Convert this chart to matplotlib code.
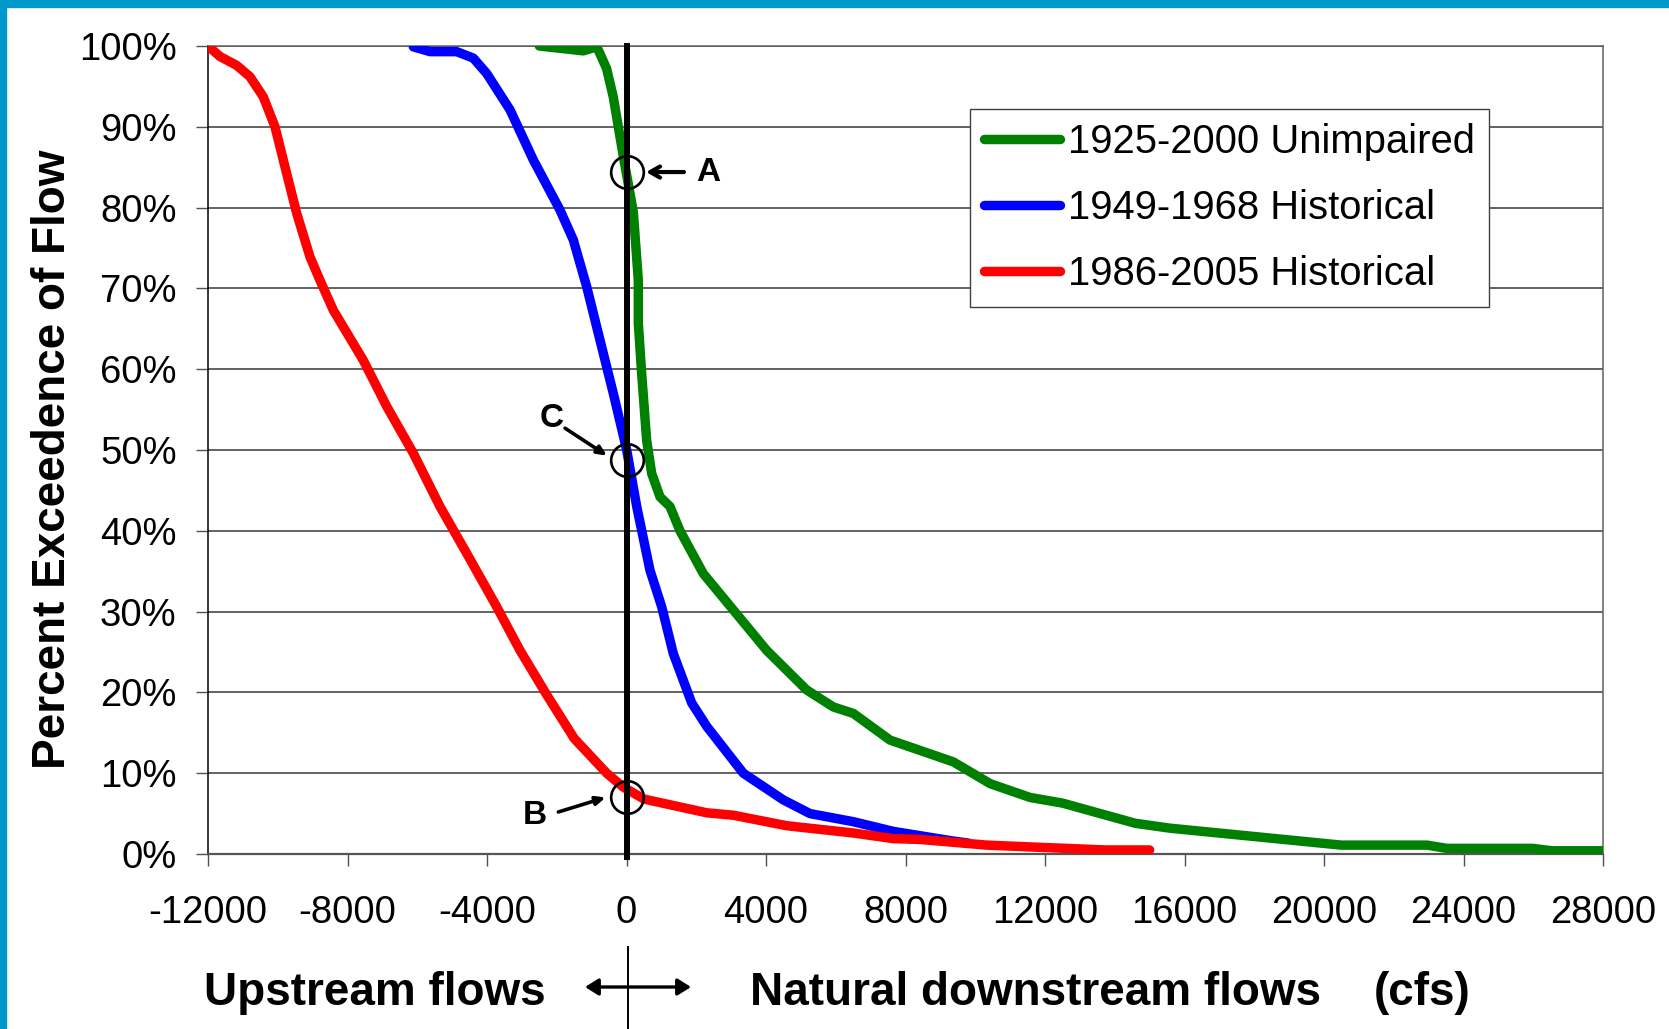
import matplotlib
matplotlib.use("Agg")
import matplotlib.pyplot as plt
from matplotlib.patches import Rectangle, FancyArrowPatch

plt.rcParams['font.family'] = ['Liberation Sans', 'DejaVu Sans']

# ---- data (flow in cfs, percent exceedence) ----
green_label = "1925-2000 Unimpaired"
green_x = [-2500, -1240, -850, -570, -380, -90, 195, 339, 339, 434, 578, 722,
           961, 1247, 1534, 2202, 3063, 4020, 5167, 5930, 6503, 7556, 9371,
           10430, 11570, 12500, 14590, 15573, 20493, 22953, 23515, 25975,
           26538, 28000]
green_y = [100, 99.4, 99.9, 97.2, 93.7, 86.3, 79.5, 71.0, 65.7, 59.5, 51.2,
           47.1, 44.2, 43.0, 40.0, 34.7, 30.2, 25.2, 20.3, 18.2, 17.4, 14.1,
           11.4, 8.7, 7.0, 6.3, 3.8, 3.2, 1.1, 1.1, 0.7, 0.7, 0.4, 0.4]

blue_label = "1949-1968 Historical"
blue_x = [-6113, -5634, -4869, -4392, -4009, -3340, -2672, -1907, -1525,
          -1141, -760, -378, 6, 293, 674, 1009, 1342, 1869, 2300, 3349, 4496,
          5262, 6503, 7651, 9371, 9800]
blue_y = [99.9, 99.3, 99.3, 98.5, 96.6, 92.1, 85.9, 79.7, 76.0, 70.2, 63.6,
          57.0, 50.0, 43.0, 35.1, 30.6, 24.8, 18.7, 15.8, 10.0, 6.7, 5.0, 4.0,
          2.8, 1.6, 1.35]

red_label = "1986-2005 Historical"
red_x = [-12000, -11656, -11178, -10796, -10414, -10079, -9743, -9457, -9075,
         -8789, -8407, -7547, -6876, -6113, -5348, -4582, -3722, -3054, -2288,
         -1500, -568, -100, 500, 2300, 3063, 4594, 6503, 7651, 8416, 10328,
         12000, 13746, 15000]
red_y = [100, 98.7, 97.6, 96.2, 93.7, 90.0, 84.2, 79.3, 73.9, 71.0, 67.3,
         61.1, 55.4, 49.6, 43.0, 37.2, 30.6, 25.2, 19.7, 14.3, 10.0, 8.3, 6.8,
         5.1, 4.8, 3.5, 2.6, 1.9, 1.8, 1.1, 0.8, 0.5, 0.5]

x_ticks = [-12000, -8000, -4000, 0, 4000, 8000, 12000, 16000, 20000, 24000, 28000]
y_ticks = [0, 10, 20, 30, 40, 50, 60, 70, 80, 90, 100]
y_ticklabels = [f"{v}%" for v in y_ticks]

# annotation points (flow, percent)
points = {"A": (0, 84.4), "C": (0, 48.8), "B": (0, 7.1)}

W, H = 1669, 1029
fig = plt.figure(figsize=(W / 100, H / 100), dpi=100)
fig.patch.set_facecolor("white")

# blue frame (top and left)
fig.patches.append(Rectangle((0, 1 - 7 / H), 1, 7 / H, transform=fig.transFigure,
                             color="#0099CC", zorder=0))
fig.patches.append(Rectangle((0, 0), 6 / W, 1, transform=fig.transFigure,
                             color="#0099CC", zorder=0))

ax = fig.add_axes([208 / W, 175 / H, (1603 - 208) / W, (854 - 46) / H])
ax.set_xlim(-12000, 28000)
ax.set_ylim(0, 100)

lw = 6.8
ax.plot(green_x, green_y, color="#008000", lw=lw, solid_capstyle="round",
        solid_joinstyle="round", label=green_label, zorder=3)
ax.plot(blue_x, blue_y, color="#0000FF", lw=lw, solid_capstyle="round",
        solid_joinstyle="round", label=blue_label, zorder=3)
ax.plot(red_x, red_y, color="#FF0000", lw=lw, solid_capstyle="round",
        solid_joinstyle="round", label=red_label, zorder=4)

ax.axvline(0, color="black", lw=4.3, zorder=5, ymin=-0.004, clip_on=False)

ax.set_xticks(x_ticks)
ax.set_xticklabels([str(v) for v in x_ticks])
ax.set_yticks(y_ticks)
ax.set_yticklabels(y_ticklabels)
ax.tick_params(axis="x", direction="out", length=8.6, width=1.0, color="#505050",
               labelsize=27.5, pad=21)
ax.tick_params(axis="y", direction="out", length=8.6, width=1.0, color="#505050",
               labelsize=27.5, pad=14)
ax.yaxis.grid(True, color="#383838", lw=1.1)
ax.set_axisbelow(True)
for side in ["top", "right"]:
    ax.spines[side].set_color("#606060")
    ax.spines[side].set_linewidth(1.1)
ax.spines["left"].set_color("black")
ax.spines["left"].set_linewidth(1.1)
ax.spines["bottom"].set_color("#555555")
ax.spines["bottom"].set_linewidth(1.6)

# circles
for k, (px, py) in points.items():
    ax.plot([px], [py], marker="o", ms=23.5, mfc="none", mec="black", mew=1.9,
            zorder=6)

# annotation letters and arrows
ax.annotate("", xy=(482, 84.4), xytext=(1726, 84.4),
            arrowprops=dict(arrowstyle="->,head_length=0.7,head_width=0.4",
                            lw=3.0, color="black"), zorder=7)
ax.text(2346, 84.4, "A", fontsize=24, fontweight="bold", ha="center", va="center")
ax.annotate("", xy=(-560, 49.3), xytext=(-1763, 52.7),
            arrowprops=dict(arrowstyle="-|>,head_length=0.55,head_width=0.25",
                            lw=2.6, color="black", shrinkA=0, shrinkB=0), zorder=7)
ax.text(-2145, 53.9, "C", fontsize=24, fontweight="bold", ha="center", va="center")
ax.annotate("", xy=(-600, 7.0), xytext=(-1955, 5.2),
            arrowprops=dict(arrowstyle="-|>,head_length=0.55,head_width=0.25",
                            lw=2.6, color="black", shrinkA=0, shrinkB=0), zorder=7)
ax.text(-2624, 4.8, "B", fontsize=24, fontweight="bold", ha="center", va="center")

leg = ax.legend(loc="upper left", bbox_to_anchor=(969.6 / W, 1 - 109 / H),
                bbox_transform=fig.transFigure, borderaxespad=0, fontsize=28.8,
                handlelength=1.9, handletextpad=0.22, borderpad=0.35,
                labelspacing=0.7, fancybox=False, framealpha=1,
                edgecolor="#404040")
leg.get_frame().set_linewidth(1.0)
leg.set_zorder(10)

# y label
fig.text(53 / W, 1 - 459 / H, "Percent Exceedence of Flow", rotation=90,
         fontsize=33, fontweight="bold", ha="center", va="center")

# bottom labels
yb = 1 - 993 / H
fig.text(375 / W, yb, "Upstream flows", fontsize=33, fontweight="bold",
         ha="center", va="center")
fig.text(750 / W, yb, "Natural downstream flows", fontsize=33,
         fontweight="bold", ha="left", va="center")
fig.text(1374 / W, yb, "(cfs)", fontsize=33, fontweight="bold",
         ha="left", va="center")
fig.add_artist(plt.Line2D([628 / W, 628 / W], [0, 1 - 947 / H],
                          transform=fig.transFigure, color="black", lw=1.4))
fig.patches.append(FancyArrowPatch(
    (585 / W, 1 - 987 / H), (691 / W, 1 - 987 / H), transform=fig.transFigure,
    arrowstyle="<|-|>,head_length=8,head_width=5", lw=2.4, color="black",
    shrinkA=0, shrinkB=0))

fig.savefig("out.png", dpi=100)
